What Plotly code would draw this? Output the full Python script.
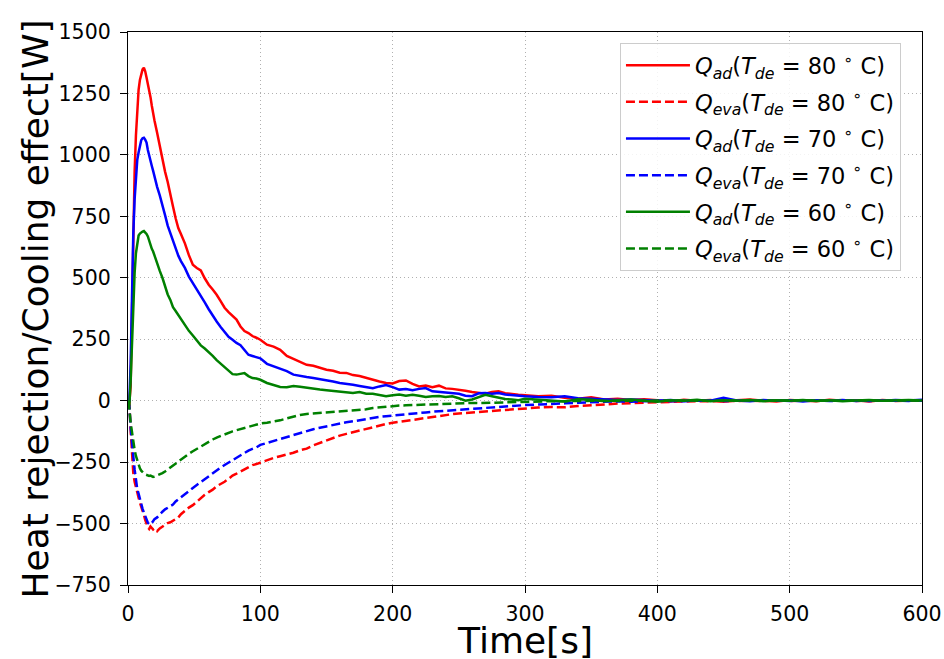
import plotly.graph_objects as go

# Time axis [s]
time_s = (
    [0, 1, 2, 3, 4, 5, 6, 7, 8, 9, 10, 11, 12, 13, 14, 15, 16, 17, 18, 19, 20]
    + [22, 24, 26, 28, 30, 32, 34, 36, 38, 40]
    + [43, 46, 49, 52, 55, 58, 61, 64, 67, 70, 73, 76, 79, 82, 85, 88, 91, 94, 97, 100]
    + [105, 110, 115, 120, 125, 130, 135, 140, 145, 150, 155, 160, 165, 170, 175, 180, 185, 190, 195, 200]
    + [205, 210, 215, 220, 225, 230, 235, 240, 245, 250, 255, 260, 265, 270, 275, 280, 285, 290, 295, 300]
    + [310, 320, 330, 340, 350, 360, 370, 380, 390, 400, 410, 420, 430, 440, 450,
       460, 470, 480, 490, 500, 510, 520, 530, 540, 550, 560, 570, 580, 590, 600]
)

q_ad_80 = (
    [0, -10, 60, 400, 729, 930, 1080, 1175, 1265, 1305, 1330, 1348, 1355, 1340, 1315, 1292, 1268, 1235, 1200, 1165, 1140]
    + [1090, 1035, 985, 932, 890, 845, 790, 742, 702, 678]
    + [640, 592, 553, 540, 530, 498, 472, 452, 431, 405, 378, 360, 346, 330, 302, 283, 275, 263, 256, 248]
    + [228, 220, 207, 182, 170, 158, 146, 142, 133, 126, 122, 114, 113, 104, 100, 92, 85, 78, 72, 70]
    + [80, 82, 68, 58, 62, 55, 61, 50, 48, 45, 40, 35, 31, 28, 35, 38, 30, 26, 24, 22]
    + [18, 20, 12, 8, 14, 5, 8, 3, 6, 2, -3, 4, 0, 3, -4, 2, 5, 0, -3, 3, 1, -2, 4, 0, 2, -3, 3, 0, 2, 0]
)

q_eva_80 = (
    [0, -9, -120, -220, -294, -330, -355, -375, -395, -415, -430, -448, -465, -485, -505, -515, -522, -512, -518, -524, -520]
    + [-531, -520, -512, -505, -498, -495, -488, -480, -475, -462]
    + [-448, -435, -425, -410, -395, -383, -372, -362, -348, -340, -330, -318, -305, -297, -288, -278, -270, -262, -258, -252]
    + [-240, -233, -226, -220, -212, -202, -195, -182, -172, -160, -150, -142, -135, -128, -120, -114, -108, -100, -95, -90]
    + [-86, -82, -77, -73, -70, -66, -62, -58, -55, -52, -50, -48, -45, -42, -40, -39, -37, -34, -32, -30]
    + [-28, -26, -27, -22, -18, -15, -12, -10, -8, -6, -5, -4, -2, -3, -1, -2, 0, -2, 1, -1, 0, -2, 1, 0, -1, 1, 0, -1, 0, 0]
)

q_ad_70 = (
    [0, -5, 150, 460, 680, 820, 920, 980, 1010, 1040, 1060, 1068, 1070, 1062, 1050, 1020, 995, 975, 955, 935, 910]
    + [870, 835, 800, 755, 712, 680, 645, 615, 590, 568]
    + [540, 505, 480, 455, 428, 400, 372, 345, 322, 300, 280, 260, 248, 235, 226, 205, 187, 182, 178, 172]
    + [150, 140, 132, 120, 106, 100, 96, 92, 88, 82, 78, 72, 70, 65, 60, 55, 51, 58, 64, 55]
    + [45, 47, 42, 48, 51, 38, 36, 33, 31, 28, 20, 18, 30, 31, 28, 31, 25, 22, 20, 18]
    + [15, 14, 18, 10, 8, 6, 3, 5, 4, 0, 3, -2, 2, 0, 12, 1, -2, 3, 0, 2, -3, 2, 0, 3, -1, 2, 0, 3, 1, 4]
)

q_eva_70 = (
    [0, -20, -110, -180, -226, -280, -330, -360, -378, -402, -425, -440, -455, -472, -488, -497, -502, -504, -498, -488, -482]
    + [-475, -462, -452, -442, -436, -430, -423, -410, -402, -395]
    + [-380, -368, -355, -343, -330, -318, -306, -296, -284, -272, -262, -252, -241, -230, -220, -210, -203, -196, -190, -180]
    + [-172, -162, -155, -146, -138, -130, -122, -116, -110, -104, -98, -92, -88, -84, -79, -74, -70, -66, -63, -60]
    + [-58, -57, -53, -50, -48, -45, -43, -41, -39, -37, -35, -34, -31, -28, -26, -24, -22, -20, -19, -18]
    + [-16, -12, -11, -8, -6, -5, -3, -4, -2, -1, -2, 0, -1, 1, -1, 0, -2, 1, 0, -1, 1, 0, -1, 1, 0, -1, 1, 0, -1, 0]
)

q_ad_60 = (
    [0, -20, 80, 255, 420, 520, 600, 650, 672, 680, 685, 688, 690, 685, 678, 668, 650, 630, 618, 607, 590]
    + [560, 528, 500, 465, 432, 410, 380, 365, 348, 332]
    + [310, 284, 265, 245, 225, 212, 198, 182, 165, 150, 135, 120, 108, 106, 110, 112, 100, 92, 90, 85]
    + [72, 64, 56, 55, 60, 57, 52, 50, 45, 42, 40, 38, 33, 31, 35, 28, 28, 22, 18, 22]
    + [25, 20, 24, 20, 15, 18, 19, 15, 18, 10, 0, 5, 15, 24, 18, 12, 7, 5, 2, 8]
    + [5, 2, -3, 6, 4, -2, 3, 5, 0, -4, 2, 0, 4, -2, 2, 0, 3, -2, 2, 0, 3, -1, 2, -2, 1, 3, 0, 2, 3, 1]
)

q_eva_60 = (
    [0, -30, -90, -130, -159, -200, -225, -245, -258, -275, -285, -292, -296, -300, -303, -305, -306, -305, -308, -310, -309]
    + [-305, -300, -295, -288, -280, -272, -262, -255, -247, -240]
    + [-228, -216, -206, -196, -185, -176, -166, -158, -150, -143, -136, -130, -125, -120, -115, -110, -106, -102, -97, -93]
    + [-90, -86, -80, -72, -64, -58, -54, -52, -50, -48, -46, -44, -42, -40, -37, -35, -30, -27, -24, -21]
    + [-20, -19, -18, -17, -16, -15, -13, -12, -11, -10, -10, -9, -10, -9, -9, -8, -7, -5, -4, -3]
    + [-3, -2, -2, -1, -2, 0, -1, 0, 1, -1, 0, 1, 0, -1, 0, 1, 0, -1, 0, 1, 0, -1, 0, 1, 0, -1, 0, 1, 0, 0]
)

x_ticks = [0, 100, 200, 300, 400, 500, 600]
y_ticks = [-750, -500, -250, 0, 250, 500, 750, 1000, 1250, 1500]
x_title = "Time[s]"
y_title = "Heat rejection/Cooling effect[W]"

series = [
    ("<i>Q</i><sub><i>ad</i></sub>(<i>T</i><sub><i>de</i></sub> = 80 <sup>∘</sup> C)", q_ad_80, "#ff0000", "solid"),
    ("<i>Q</i><sub><i>eva</i></sub>(<i>T</i><sub><i>de</i></sub> = 80 <sup>∘</sup> C)", q_eva_80, "#ff0000", "9px,4px"),
    ("<i>Q</i><sub><i>ad</i></sub>(<i>T</i><sub><i>de</i></sub> = 70 <sup>∘</sup> C)", q_ad_70, "#0000ff", "solid"),
    ("<i>Q</i><sub><i>eva</i></sub>(<i>T</i><sub><i>de</i></sub> = 70 <sup>∘</sup> C)", q_eva_70, "#0000ff", "9px,4px"),
    ("<i>Q</i><sub><i>ad</i></sub>(<i>T</i><sub><i>de</i></sub> = 60 <sup>∘</sup> C)", q_ad_60, "#008000", "solid"),
    ("<i>Q</i><sub><i>eva</i></sub>(<i>T</i><sub><i>de</i></sub> = 60 <sup>∘</sup> C)", q_eva_60, "#008000", "9px,4px"),
]

FONT = "DejaVu Sans"

fig = go.Figure()
for i, (name, vals, color, dash) in enumerate(series):
    assert len(vals) == len(time_s), (name, len(vals), len(time_s))
    fig.add_trace(go.Scatter(
        x=time_s, y=vals, mode="lines", name=name,
        line=dict(color=color, width=2.5, dash=dash),
        legendgroup="g%d" % i,
    ))

axis_common = dict(
    showline=True, mirror=True, linecolor="black", linewidth=1.3,
    ticks="outside", ticklen=7, tickwidth=1.3, tickcolor="black",
    showgrid=True, gridcolor="#b0b0b0", gridwidth=1, griddash="1px,3px",
    zeroline=False, automargin=False,
    tickfont=dict(family=FONT, size=20.5, color="black"),
)

fig.update_layout(
    width=944, height=659,
    margin=dict(l=128, r=22, t=32, b=74),
    paper_bgcolor="white", plot_bgcolor="white",
    font=dict(family=FONT, color="black"),
    xaxis=dict(range=[0, 600], tickvals=x_ticks, ticklabelstandoff=3, **axis_common),
    yaxis=dict(range=[-750, 1500], tickvals=y_ticks, ticklabelstandoff=5, **axis_common),
    legend=dict(
        x=0.6196, y=0.98, xanchor="left", yanchor="top",
        bgcolor="rgba(255,255,255,0.85)", bordercolor="#cccccc", borderwidth=1,
        font=dict(family=FONT, size=22.5, color="black"),
        tracegroupgap=4.4, itemwidth=64,
    ),
    showlegend=True,
    annotations=[
        dict(text=x_title, xref="paper", yref="paper", x=0.5, y=-0.134,
             xanchor="center", yanchor="bottom", yshift=-4, showarrow=False,
             font=dict(family=FONT, size=36, color="black")),
        dict(text=y_title, xref="paper", yref="paper", x=-0.1159, y=0.5,
             xanchor="center", yanchor="middle", textangle=-90, showarrow=False,
             font=dict(family=FONT, size=36, color="black")),
    ],
)

fig.write_html("out.html")
